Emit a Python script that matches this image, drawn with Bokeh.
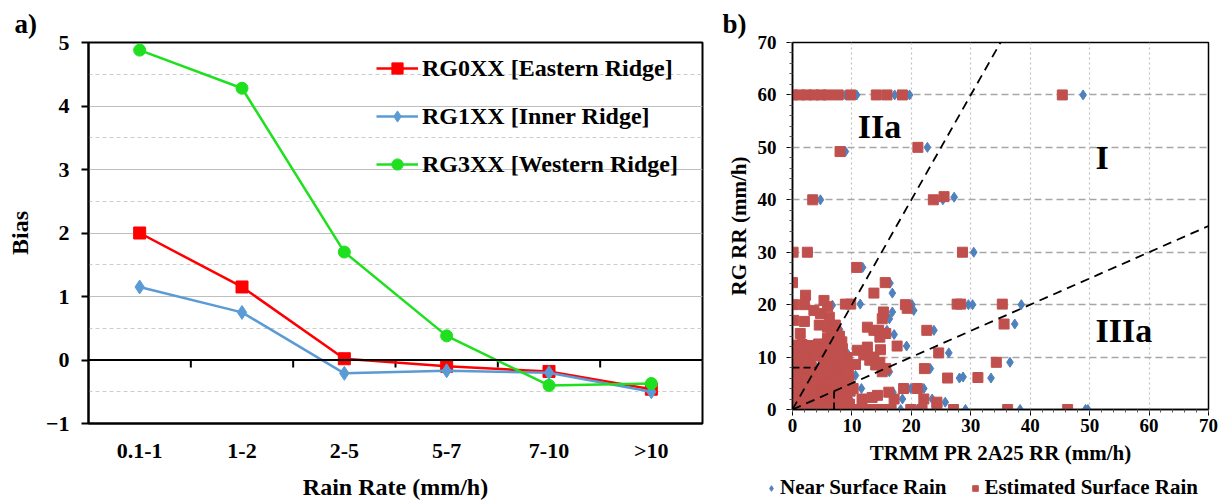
from bokeh.plotting import figure
from bokeh.layouts import row, column
from bokeh.models import (FactorRange, Range1d, SingleIntervalTicker, Span, Label,
                          Legend, LegendItem, Title)
from bokeh.embed import file_html
from bokeh.resources import INLINE

FONT = "Liberation Serif"

# ---------------- panel a) data ----------------
categories = ["0.1-1", "1-2", "2-5", "5-7", "7-10", ">10"]
rg0xx = [2.0, 1.15, 0.02, -0.10, -0.18, -0.46]
rg1xx = [1.15, 0.75, -0.21, -0.17, -0.20, -0.50]
rg3xx = [4.88, 4.28, 1.70, 0.38, -0.40, -0.37]
series_labels = ["RG0XX [Eastern Ridge]", "RG1XX [Inner Ridge]", "RG3XX [Western Ridge]"]

# ---------------- panel b) data ----------------
near_pts = [
    (8.9, 60), (10.8, 60), (17.2, 60), (19.7, 60), (48.9, 60),
    (8.9, 49.2), (22.7, 50), (4.7, 40), (25.3, 40), (27.2, 40.5), (2.9, 30), (30.5, 30),
    (11.8, 27.1), (16.4, 24.1), (16.8, 22.2), (16.8, 18.6), (16.3, 17.3), (6.7, 19.9),
    (11.4, 20.1), (20.1, 20.0), (20.4, 18.9), (29.6, 20.0), (30.3, 20.0), (38.5, 20.0),
    (7.9, 15.3), (15.9, 15.1), (17.1, 14.3), (19.2, 12.1), (23.8, 15.1), (37.4, 16.3),
    (26.3, 10.8), (36.6, 9.0), (23.2, 7.8), (28.1, 6.0), (28.7, 6.2), (33.4, 6.0),
    (19.9, 4.0), (22.1, 4.0), (11.6, 4.0), (23.5, 2.0), (25.7, 1.4), (18.5, 2.0),
    (16.9, 3.3), (16.3, 7.2), (8.5, 13.2), (9.3, 10.6), (9.8, 3.6), (9.7, 1.9),
    (10.6, 6.5), (9.9, 8.4), (1.0, 2.0), (2.5, 5.0), (4.0, 8.0), (5.5, 11.0),
    (3.0, 1.0), (6.0, 3.0),
    (18.2, 0), (21.0, 0), (29.1, 0), (38.3, 0), (49.3, 0), (49.7, 0),
]
est_pts = [
    (0, 60), (1.2, 60), (2.4, 60), (3.6, 60), (4.8, 60), (6.0, 60), (7.7, 60), (9.8, 60),
    (14.1, 60), (15.9, 60), (18.5, 60), (45.4, 60),
    (8.0, 49.2), (21.1, 50.0), (3.4, 40.0), (23.7, 40.0), (25.5, 40.6),
    (0.1, 30.0), (2.5, 30.0), (28.6, 30.0),
    (10.8, 27.1), (0.0, 24.2), (15.6, 24.2), (13.7, 22.2), (2.2, 21.8),
    (0.2, 20.0), (2.0, 20.0), (3.6, 18.9), (5.3, 20.8), (5.9, 19.6), (8.9, 20.1), (9.8, 20.1),
    (19.0, 20.0), (19.3, 19.3), (27.7, 20.1), (28.3, 20.1), (35.3, 20.1),
    (4.7, 18.3), (6.2, 17.6), (0.2, 17.0), (2.0, 16.8), (4.5, 16.1), (5.9, 15.7), (7.0, 15.4),
    (1.3, 14.5), (15.3, 18.6), (15.1, 17.3), (12.6, 15.7), (13.7, 15.1), (14.5, 15.1),
    (15.7, 14.5), (14.7, 13.8), (17.6, 12.1), (10.9, 11.3), (12.6, 11.9), (14.8, 11.4),
    (13.7, 10.0), (14.7, 9.0), (15.7, 7.8), (10.6, 8.6), (22.6, 15.1), (35.6, 16.3),
    (12.0, 10.4), (13.0, 9.4), (14.0, 8.5), (15.1, 7.2),
    (24.6, 10.8), (34.3, 9.0), (22.2, 7.8), (26.1, 6.0), (31.2, 6.1),
    (10.2, 4.0), (11.7, 2.0), (14.3, 2.7), (16.2, 3.3), (18.7, 4.0), (21.0, 4.0),
    (22.1, 2.0), (24.3, 1.4), (17.1, 2.0), (13.4, 2.3),
    (0, 0), (1.5, 0), (3.0, 0), (4.5, 0), (6.0, 0), (7.5, 0), (9.0, 0), (10.5, 0), (12.0, 0),
    (13.5, 0), (15.0, 0), (16.6, 0), (19.9, 0), (21.8, 0), (24.3, 0), (27.1, 0), (36.2, 0),
    (46.3, 0),
    # dense cluster at low rain rates
    (0.3, 1.5), (1.6, 1.2), (3.0, 1.8), (4.4, 1.4), (5.8, 1.6), (7.2, 1.3), (8.6, 1.8), (9.6, 1.0),
    (0.2, 3.2), (1.5, 3.0), (2.9, 3.4), (4.3, 3.1), (5.7, 3.3), (7.1, 2.9), (8.5, 3.2), (9.7, 3.5),
    (0.4, 4.8), (1.8, 4.6), (3.2, 5.0), (4.6, 4.7), (6.0, 4.9), (7.4, 4.5), (8.8, 4.8),
    (0.1, 6.4), (1.4, 6.2), (2.8, 6.6), (4.2, 6.3), (5.6, 6.5), (7.0, 6.1), (8.4, 6.4), (9.4, 6.8),
    (0.3, 8.0), (1.7, 7.8), (3.1, 8.2), (5.9, 8.1), (7.3, 7.7), (8.7, 8.0),
    (0.2, 9.6), (1.5, 9.4), (2.7, 9.8), (5.2, 9.5), (6.6, 9.9), (8.0, 9.3), (9.2, 9.9),
    (0.4, 11.2), (1.8, 11.0), (3.2, 11.4), (4.6, 11.1), (6.0, 11.3), (7.4, 10.9), (8.4, 11.6),
    (0.1, 12.3), (1.6, 12.4), (3.0, 12.2), (4.4, 12.5), (5.8, 12.6),
    (5.9, 13.6), (7.0, 13.3), (6.5, 14.8), (7.4, 14.6), (7.2, 16.1), (8.3, 12.9),
    (0.9, 0.6), (2.3, 0.8), (3.7, 0.5), (5.1, 0.9), (6.5, 0.7), (7.9, 0.6),
    (0.9, 2.3), (2.2, 2.5), (3.6, 2.4), (5.0, 2.2), (6.4, 2.5), (7.8, 2.2), (9.1, 2.6),
    (1.1, 3.9), (2.4, 4.1), (3.8, 3.8), (5.2, 4.0), (6.6, 4.1), (8.0, 3.9), (9.3, 4.3),
    (1.0, 5.6), (2.3, 5.4), (3.8, 5.7), (5.3, 5.5), (6.7, 5.3), (8.1, 5.6), (9.5, 5.5),
    (0.8, 7.2), (2.2, 7.0), (3.6, 7.3), (4.9, 7.1), (6.3, 7.3), (7.8, 7.0), (9.0, 7.4),
    (0.9, 8.8), (2.3, 8.6), (5.2, 8.7), (6.6, 8.5), (7.6, 8.9), (9.4, 8.6),
    (1.0, 10.3), (2.4, 10.5), (3.8, 10.2), (5.4, 10.4), (6.9, 10.2), (8.2, 10.6),
    (1.1, 11.8), (2.5, 12.0), (3.9, 11.9), (5.3, 11.7), (6.7, 12.0), (7.8, 11.9),
    (6.3, 12.9), (7.9, 14.0),
]
near_x = [p[0] for p in near_pts]
near_y = [p[1] for p in near_pts]
est_x = [p[0] for p in est_pts]
est_y = [p[1] for p in est_pts]
scatter_labels = ["Near Surface Rain", "Estimated Surface Rain"]

ref_slopes = [2.0, 0.5]          # y = 2x and y = x/2 boundaries
rg_threshold = 8.0               # short horizontal boundary near origin
pr_threshold = 7.0               # short vertical boundary near origin
regions = [("IIa", 11.0, 54.0), ("I", 51.0, 48.0), ("IIIa", 51.0, 15.0)]

# ======================= panel a) =======================
pa = figure(x_range=FactorRange(*categories), y_range=Range1d(-1, 5),
            width=720, height=504, frame_width=614, frame_height=381,
            min_border_left=88, min_border_right=18, min_border_top=42, min_border_bottom=81,
            output_backend="svg", toolbar_location=None)
pa.background_fill_color = "white"
pa.border_fill_color = "white"
pa.outline_line_color = "black"
pa.outline_line_width = 2

ytick = SingleIntervalTicker(interval=1, num_minor_ticks=2)
pa.yaxis.ticker = ytick
pa.ygrid.ticker = ytick
pa.xgrid.grid_line_color = None
pa.ygrid.grid_line_color = "#BFBFBF"
pa.ygrid.grid_line_width = 1.2
pa.ygrid.minor_grid_line_color = "#CCCCCC"
pa.ygrid.minor_grid_line_dash = "4 3"

for ax in (pa.xaxis[0], pa.yaxis[0]):
    ax.axis_line_color = "black"
    ax.axis_line_width = 2
    ax.major_label_text_font = FONT
    ax.major_label_text_font_style = "bold"
    ax.major_label_text_font_size = "22px"
    ax.major_label_text_color = "black"
    ax.axis_label_text_font = FONT
    ax.axis_label_text_font_style = "bold"
    ax.axis_label_text_font_size = "24px"
    ax.axis_label_text_color = "black"
    ax.minor_tick_line_color = None

pa.yaxis.major_tick_line_color = "black"
pa.yaxis.major_tick_line_width = 2
pa.yaxis.major_tick_out = 7
pa.yaxis.major_tick_in = 0
pa.yaxis.major_label_standoff = 12
pa.yaxis.axis_label = "Bias"
pa.yaxis.axis_label_standoff = 10

pa.xaxis.major_tick_line_color = None
pa.xaxis.major_label_standoff = 8
pa.xaxis.axis_label = "Rain Rate (mm/h)"
pa.xaxis.axis_label_standoff = 8

pa.add_layout(Span(location=0, dimension="width", line_color="black", line_width=2))
tick_x = [(c, 0.5) for c in categories[:-1]]
pa.segment(x0=tick_x, y0=[0] * len(tick_x), x1=tick_x, y1=[-0.12] * len(tick_x),
           line_color="black", line_width=2)

red_a, blue_a, green_a = "#FF0000", "#5B9BD5", "#1EE01E"
l0 = pa.line(categories, rg0xx, line_color=red_a, line_width=2.5)
m0 = pa.scatter(categories, rg0xx, marker="square", size=12, color=red_a)
l1 = pa.line(categories, rg1xx, line_color=blue_a, line_width=2.5)
m1 = pa.scatter(categories, rg1xx, marker="diamond", size=14, color=blue_a)
l2 = pa.line(categories, rg3xx, line_color=green_a, line_width=2.5)
m2 = pa.scatter(categories, rg3xx, marker="circle", size=12, color=green_a)

leg_a = Legend(items=[LegendItem(label=series_labels[0], renderers=[l0, m0]),
                      LegendItem(label=series_labels[1], renderers=[l1, m1]),
                      LegendItem(label=series_labels[2], renderers=[l2, m2])],
               location=(288, 245), padding=0, margin=0, spacing=20,
               glyph_width=42, glyph_height=28, label_standoff=4,
               label_text_font=FONT, label_text_font_style="bold",
               label_text_font_size="24px", label_text_color="black",
               background_fill_alpha=0, border_line_alpha=0)
pa.add_layout(leg_a, "center")

pa.add_layout(Title(text="a)", align="left", offset=-74, standoff=7,
                    text_font=FONT, text_font_style="bold", text_font_size="27px",
                    text_color="black"), "above")

# ======================= panel b) =======================
pb = figure(x_range=Range1d(0, 70), y_range=Range1d(0, 70),
            width=511, height=471, frame_width=416, frame_height=367,
            min_border_left=72, min_border_right=23, min_border_top=42, min_border_bottom=62,
            output_backend="svg", toolbar_location=None)
pb.background_fill_color = "white"
pb.border_fill_color = "white"
pb.outline_line_color = "black"
pb.outline_line_width = 1.5

btick = SingleIntervalTicker(interval=10, num_minor_ticks=5)
for ax in (pb.xaxis[0], pb.yaxis[0]):
    ax.ticker = btick
    ax.axis_line_color = "black"
    ax.axis_line_width = 1.5
    ax.major_tick_line_color = "black"
    ax.major_tick_out = 6
    ax.major_tick_in = 0
    ax.minor_tick_line_color = "#555555"
    ax.minor_tick_out = 3
    ax.minor_tick_in = 0
    ax.major_label_text_font = FONT
    ax.major_label_text_font_style = "bold"
    ax.major_label_text_font_size = "19px"
    ax.major_label_text_color = "black"
    ax.axis_label_text_font = FONT
    ax.axis_label_text_font_style = "bold"
    ax.axis_label_text_font_size = "21px"
    ax.axis_label_text_color = "black"
pb.xaxis.axis_label = "TRMM PR 2A25 RR (mm/h)"
pb.yaxis.axis_label = "RG RR (mm/h)"
pb.xaxis.major_label_standoff = 3
pb.yaxis.major_label_standoff = 10
pb.xaxis.axis_label_standoff = 6
pb.yaxis.axis_label_standoff = 4

pb.xgrid.ticker = btick
pb.ygrid.ticker = btick
pb.xgrid.grid_line_color = "#C0C0C0"
pb.xgrid.grid_line_dash = "2 3"
pb.xgrid.grid_line_width = 1.2
pb.ygrid.grid_line_color = "#A6A6A6"
pb.ygrid.grid_line_dash = "7 4"
pb.ygrid.grid_line_width = 1.6

blue_b, red_b = "#4F81BD", "#C0504D"
rn = pb.scatter(near_x, near_y, marker="diamond", size=10, color=blue_b)
re = pb.scatter(est_x, est_y, marker="square", size=10, color=red_b)

for s in ref_slopes:
    xe = min(70.0, 70.0 / s)
    pb.line([0, xe], [0, s * xe], line_color="black", line_width=1.8, line_dash="9 6")
pb.line([0, rg_threshold / ref_slopes[0]], [rg_threshold, rg_threshold],
        line_color="black", line_width=1.8, line_dash="7 4")
pb.line([pr_threshold, pr_threshold], [0, pr_threshold * ref_slopes[1]],
        line_color="black", line_width=1.8, line_dash="7 4")

for txt, xx, yy in regions:
    pb.add_layout(Label(x=xx, y=yy, text=txt, text_font=FONT, text_font_style="bold",
                        text_font_size="34px", text_baseline="middle", text_align="left",
                        text_color="black"))

pb.add_layout(Title(text="b)", align="left", offset=-70, standoff=7,
                    text_font=FONT, text_font_style="bold", text_font_size="27px",
                    text_color="black"), "above")

# legend strip for panel b), drawn beneath its axis label
# (same series, ranges chosen so that only the legend keys are visible)
pl = figure(x_range=Range1d(200, 201), y_range=Range1d(200, 201), width=511, height=33,
            frame_width=511, frame_height=33, min_border=0,
            output_backend="svg", toolbar_location=None)
pl.axis.visible = False
pl.grid.visible = False
pl.outline_line_color = None
pl.background_fill_color = "white"
pl.border_fill_color = "white"
kn = pl.scatter(near_x, near_y, marker="diamond", size=10, color=blue_b)
ke = pl.scatter(est_x, est_y, marker="square", size=10, color=red_b)
leg_b = Legend(items=[LegendItem(label=scatter_labels[0], renderers=[kn]),
                      LegendItem(label=scatter_labels[1], renderers=[ke])],
               orientation="horizontal", location=(44, 4), padding=0, margin=0,
               spacing=22, glyph_width=14, glyph_height=18, label_height=18,
               label_standoff=2,
               label_text_font=FONT, label_text_font_style="bold",
               label_text_font_size="21px", label_text_color="black",
               background_fill_alpha=0, border_line_alpha=0)
pl.add_layout(leg_b, "center")

layout = row(pa, column(pb, pl))
open("out.html", "w").write(file_html(layout, INLINE))
